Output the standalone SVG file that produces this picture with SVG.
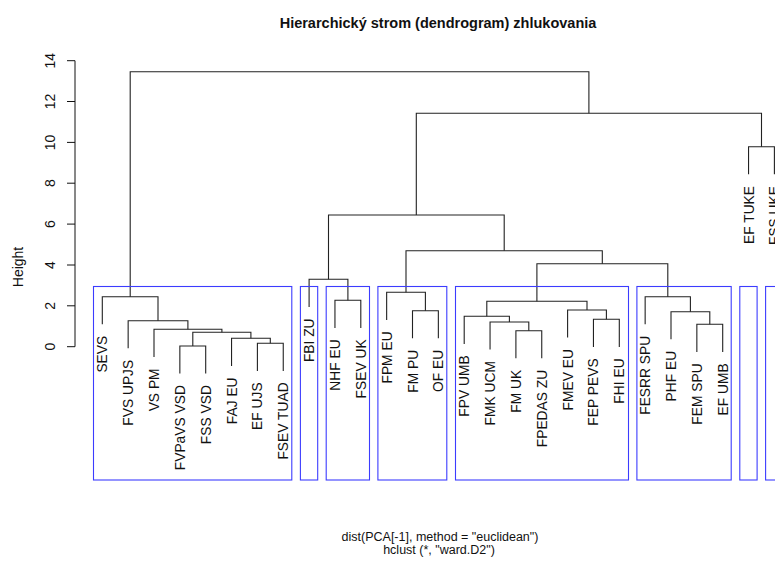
<svg xmlns="http://www.w3.org/2000/svg" width="775" height="563" viewBox="0 0 775 563">
  <style>
    text { font-family: "Liberation Sans", Arial, sans-serif; fill: #111; }
    .title { font-size: 14.5px; font-weight: bold; text-anchor: middle; }
    .sub { font-size: 12.5px; text-anchor: middle; }
    .tick { font-size: 14px; text-anchor: middle; }
    .leaf { font-size: 13.8px; text-anchor: end; }
    .axis { stroke: #111; stroke-width: 1; fill: none; }
    .edge { stroke: #222; stroke-width: 1.1; fill: none; }
    .box { stroke: #3c3cff; stroke-width: 1.1; fill: none; }
  </style>

  <!-- title and captions -->
  <text class="title" x="438" y="28">Hierarchický strom (dendrogram) zhlukovania</text>
  <text class="sub" x="440" y="541">dist(PCA[-1], method = "euclidean")</text>
  <text class="sub" x="439" y="554">hclust (*, "ward.D2")</text>

  <!-- height axis -->
  <g id="axis">
    <path class="axis" d="M75,60.7 V346.7 M67,346.7 H75 M67,305.8 H75 M67,265 H75 M67,224.1 H75 M67,183.2 H75 M67,142.4 H75 M67,101.5 H75 M67,60.7 H75"/>
    <text class="tick" transform="translate(55,346.7) rotate(-90)">0</text>
    <text class="tick" transform="translate(55,305.8) rotate(-90)">2</text>
    <text class="tick" transform="translate(55,265) rotate(-90)">4</text>
    <text class="tick" transform="translate(55,224.1) rotate(-90)">6</text>
    <text class="tick" transform="translate(55,183.2) rotate(-90)">8</text>
    <text class="tick" transform="translate(55,142.4) rotate(-90)">10</text>
    <text class="tick" transform="translate(55,101.5) rotate(-90)">12</text>
    <text class="tick" transform="translate(55,60.7) rotate(-90)">14</text>
    <text class="tick" transform="translate(23,267) rotate(-90)">Height</text>
  </g>

  <!-- merge links -->
  <g id="connectors">
    <path class="edge" d="M179.85,373.6 V346 H205.7 V373.6"/>
    <path class="edge" d="M257.4,370.9 V343.3 H283.25 V370.9"/>
    <path class="edge" d="M231.55,365.9 V338.3 H270.3 V343.3"/>
    <path class="edge" d="M192.8,346 V332.3 H250.9 V338.3"/>
    <path class="edge" d="M154,356.9 V329.3 H221.9 V332.3"/>
    <path class="edge" d="M128.15,348.3 V320.7 H187.9 V329.3"/>
    <path class="edge" d="M102.3,324.3 V296.7 H158 V320.7"/>
    <path class="edge" d="M334.95,327.9 V300.3 H360.8 V327.9"/>
    <path class="edge" d="M309.1,306.9 V279.3 H347.9 V300.3"/>
    <path class="edge" d="M412.5,338.3 V310.7 H438.35 V338.3"/>
    <path class="edge" d="M386.65,319.9 V292.3 H425.4 V310.7"/>
    <path class="edge" d="M515.9,358.3 V330.7 H541.75 V358.3"/>
    <path class="edge" d="M490.05,349.6 V322 H528.8 V330.7"/>
    <path class="edge" d="M464.2,343.9 V316.3 H509.4 V322"/>
    <path class="edge" d="M593.45,346.9 V319.3 H619.3 V346.9"/>
    <path class="edge" d="M567.6,337.6 V310 H606.4 V319.3"/>
    <path class="edge" d="M486.8,316.3 V301.3 H587 V310"/>
    <path class="edge" d="M696.85,351.9 V324.3 H722.7 V351.9"/>
    <path class="edge" d="M671,339.3 V311.7 H709.8 V324.3"/>
    <path class="edge" d="M645.15,324.3 V296.7 H690.4 V311.7"/>
    <path class="edge" d="M536.9,301.3 V263.7 H667.8 V296.7"/>
    <path class="edge" d="M406,292.3 V250.7 H602.3 V263.7"/>
    <path class="edge" d="M328.5,279.3 V215 H504.2 V250.7"/>
    <path class="edge" d="M748.55,174.3 V146.7 H774.4 V174.3"/>
    <path class="edge" d="M416.3,215 V113.3 H761.5 V146.7"/>
    <path class="edge" d="M130.2,296.7 V71.7 H588.9 V113.3"/>
  </g>

  <!-- leaves -->
  <g id="leaf-SEVS"><text class="leaf" transform="translate(107.3,335.8) rotate(-90)">SEVS</text></g>
  <g id="leaf-FVS-UPJS"><text class="leaf" transform="translate(133.15,359.8) rotate(-90)">FVS UPJS</text></g>
  <g id="leaf-VS-PM"><text class="leaf" transform="translate(159,368.4) rotate(-90)">VS PM</text></g>
  <g id="leaf-FVPaVS-VSD"><text class="leaf" transform="translate(184.85,385.1) rotate(-90)">FVPaVS VSD</text></g>
  <g id="leaf-FSS-VSD"><text class="leaf" transform="translate(210.7,385.1) rotate(-90)">FSS VSD</text></g>
  <g id="leaf-FAJ-EU"><text class="leaf" transform="translate(236.55,377.4) rotate(-90)">FAJ EU</text></g>
  <g id="leaf-EF-UJS"><text class="leaf" transform="translate(262.4,382.4) rotate(-90)">EF UJS</text></g>
  <g id="leaf-FSEV-TUAD"><text class="leaf" transform="translate(288.25,382.4) rotate(-90)">FSEV TUAD</text></g>
  <g id="leaf-FBI-ZU"><text class="leaf" transform="translate(314.1,318.4) rotate(-90)">FBI ZU</text></g>
  <g id="leaf-NHF-EU"><text class="leaf" transform="translate(339.95,339.4) rotate(-90)">NHF EU</text></g>
  <g id="leaf-FSEV-UK"><text class="leaf" transform="translate(365.8,339.4) rotate(-90)">FSEV UK</text></g>
  <g id="leaf-FPM-EU"><text class="leaf" transform="translate(391.65,331.4) rotate(-90)">FPM EU</text></g>
  <g id="leaf-FM-PU"><text class="leaf" transform="translate(417.5,349.8) rotate(-90)">FM PU</text></g>
  <g id="leaf-OF-EU"><text class="leaf" transform="translate(443.35,349.8) rotate(-90)">OF EU</text></g>
  <g id="leaf-FPV-UMB"><text class="leaf" transform="translate(469.2,355.4) rotate(-90)">FPV UMB</text></g>
  <g id="leaf-FMK-UCM"><text class="leaf" transform="translate(495.05,361.1) rotate(-90)">FMK UCM</text></g>
  <g id="leaf-FM-UK"><text class="leaf" transform="translate(520.9,369.8) rotate(-90)">FM UK</text></g>
  <g id="leaf-FPEDAS-ZU"><text class="leaf" transform="translate(546.75,369.8) rotate(-90)">FPEDAS ZU</text></g>
  <g id="leaf-FMEV-EU"><text class="leaf" transform="translate(572.6,349.1) rotate(-90)">FMEV EU</text></g>
  <g id="leaf-FEP-PEVS"><text class="leaf" transform="translate(598.45,358.4) rotate(-90)">FEP PEVS</text></g>
  <g id="leaf-FHI-EU"><text class="leaf" transform="translate(624.3,358.4) rotate(-90)">FHI EU</text></g>
  <g id="leaf-FESRR-SPU"><text class="leaf" transform="translate(650.15,335.8) rotate(-90)">FESRR SPU</text></g>
  <g id="leaf-PHF-EU"><text class="leaf" transform="translate(676,350.8) rotate(-90)">PHF EU</text></g>
  <g id="leaf-FEM-SPU"><text class="leaf" transform="translate(701.85,363.4) rotate(-90)">FEM SPU</text></g>
  <g id="leaf-EF-UMB"><text class="leaf" transform="translate(727.7,363.4) rotate(-90)">EF UMB</text></g>
  <g id="leaf-EF-TUKE"><text class="leaf" transform="translate(753.55,186) rotate(-90)">EF TUKE</text></g>
  <g id="leaf-FSS-UKE"><text class="leaf" transform="translate(779.4,186) rotate(-90)">FSS UKE</text></g>

  <!-- cluster frames -->
  <g id="clusters">
    <rect class="box" x="93.5" y="286.5" width="198.3" height="193.5"/>
    <rect class="box" x="300.4" y="286.5" width="17.3" height="193.5"/>
    <rect class="box" x="326.2" y="286.5" width="43.3" height="193.5"/>
    <rect class="box" x="377.9" y="286.5" width="68.9" height="193.5"/>
    <rect class="box" x="455.5" y="286.5" width="173" height="193.5"/>
    <rect class="box" x="636.9" y="286.5" width="94.3" height="193.5"/>
    <rect class="box" x="739.8" y="286.5" width="17.3" height="193.5"/>
    <rect class="box" x="765.6" y="286.5" width="20" height="193.5"/>
  </g>
</svg>
